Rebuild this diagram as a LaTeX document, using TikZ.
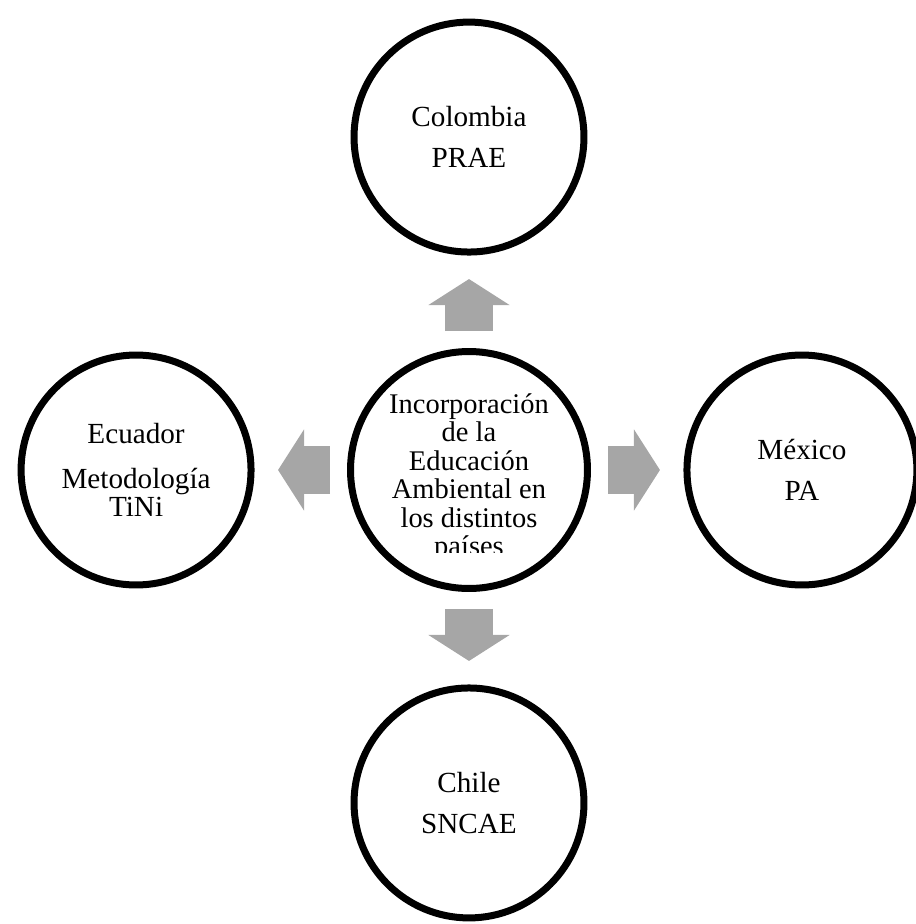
\documentclass[tikz,border=0pt]{standalone}
\usepackage{fontspec}
\setmainfont{Liberation Serif}
\usetikzlibrary{arrows.meta,positioning,shadows}

\definecolor{flechagris}{RGB}{166,166,166}

\tikzset{
  pais/.style={circle, draw=black, line width=0.14cm, fill=white,
    minimum size=4.6cm, inner sep=0pt, align=center,
    font=\fontsize{16.6}{16.2}\selectfont,
    drop shadow={shadow xshift=0pt, shadow yshift=-0.06cm, opacity=0.2}},
  flecha/.style={draw=flechagris, line width=0.96cm,
    -{Triangle[width=1.6cm,length=0.52cm]},
    shorten <=0.34cm, shorten >=0.47cm}
}

\begin{document}
\begin{tikzpicture}[x=0.02cm,y=-0.02cm,
    level distance=6.66cm, sibling distance=0pt,
    edge from parent/.style={flecha}]
  \useasboundingbox (0,0) rectangle (916,924);
  \node[pais, minimum size=4.74cm] (incorp) at (469,470) {}
    child[grow=up] {node[pais] (colombia) {Colombia\\[6.8pt]PRAE}}
    child[grow=right] {node[pais] (mexico) {México\\[6.8pt]PA}}
    child[grow=down] {node[pais] (chile) {Chile\\[6.8pt]SNCAE}}
    child[grow=left] {node[pais] (ecuador) {Ecuador\\[9.4pt]Metodología\\TiNi}};
  % texto central, cortado abajo
  \begin{scope}
    \clip (340,380) rectangle (600,552);
    \node[anchor=north, inner sep=0pt, align=center,
      font=\fontsize{16.2}{16.2}\selectfont] (incorptexto) at (469,393)
      {Incorporación\\de la\\Educación\\Ambiental en\\los distintos\\países};
  \end{scope}
\end{tikzpicture}
\end{document}
